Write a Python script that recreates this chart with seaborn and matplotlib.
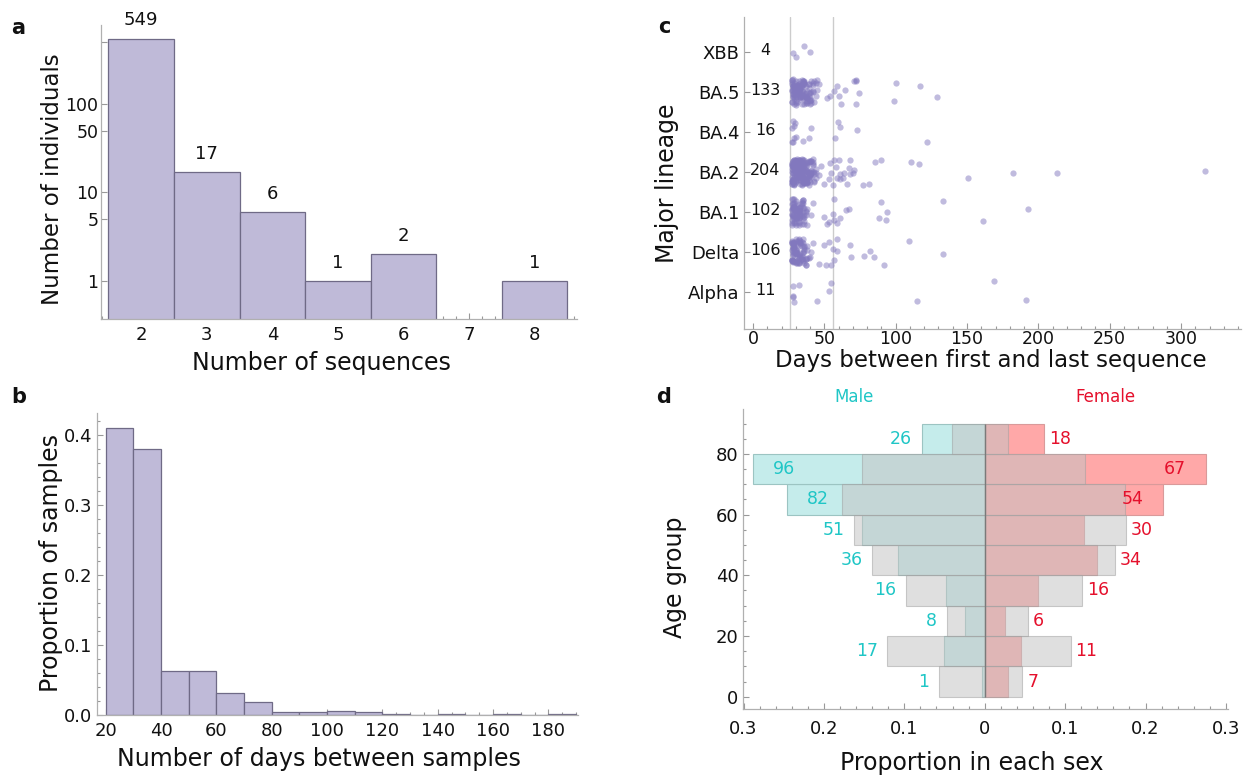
import numpy as np
import pandas as pd
import matplotlib
matplotlib.use("Agg")
import matplotlib.pyplot as plt
import seaborn as sns
from matplotlib.ticker import FixedLocator, MultipleLocator, FuncFormatter, NullLocator

# ---------------- data ----------------
# (a) number of sequences per individual
n_sequences = [2, 3, 4, 5, 6, 7, 8]
n_individuals = [549, 17, 6, 1, 2, 0, 1]

# (b) days between samples (10-day bins)
interval_bin_start = [20, 30, 40, 50, 60, 70, 80, 90, 100, 110, 120, 130, 140, 150, 160, 170, 180]
interval_proportion = [0.41, 0.38, 0.063, 0.063, 0.031, 0.018, 0.004, 0.004, 0.006,
                       0.004, 0.002, 0.0, 0.001, 0.0, 0.001, 0.0, 0.001]

# (c) days between first and last sequence by lineage (value, multiplicity)
lineages = ["XBB", "BA.5", "BA.4", "BA.2", "BA.1", "Delta", "Alpha"]
lineage_counts = [4, 133, 16, 204, 102, 106, 11]
xbb_days = [28, 30, 36, 40]
xbb_n = [1, 1, 1, 1]
ba5_days = [27, 28, 29, 30, 31, 32, 33, 34, 35, 36, 37, 38, 39, 40, 41, 42, 43, 44, 45, 46,
            51.6, 54, 57, 59, 60, 62, 64.5, 71, 72, 72.5, 74, 99, 100, 117, 129]
ba5_n = [8, 9, 9, 9, 8, 8, 8, 7, 7, 7, 6, 6, 5, 5, 4, 4, 2, 2, 2, 1,
         1, 1, 1, 1, 1, 1, 1, 1, 2, 1, 1, 1, 1, 1, 1]
ba4_days = [27, 28, 28.3, 28.9, 29, 29.4, 30, 35, 39.5, 40.4, 57.6, 59.3, 61.2, 72.9, 122.2]
ba4_n = [2, 1, 1, 1, 1, 1, 1, 1, 1, 1, 1, 1, 1, 1, 1]
ba2_days = [27, 28, 29, 30, 31, 32, 33, 34, 35, 36, 37, 38, 39, 40, 41, 42, 43, 44,
            46, 48, 50, 53, 54, 55, 56, 57, 58, 59, 60, 61, 63, 64, 66, 67, 68, 70, 71,
            77, 81, 85.5, 90, 111, 116.5, 151, 182.5, 213, 316.7]
ba2_n = [12, 14, 14, 13, 13, 12, 12, 11, 11, 10, 9, 9, 8, 7, 6, 5, 4, 3,
         1, 1, 1, 1, 1, 1, 1, 1, 1, 1, 1, 2, 1, 1, 1, 1, 2, 1, 1,
         1, 1, 1, 1, 1, 1, 1, 1, 1, 1]
ba1_days = [27, 28, 29, 30, 31, 32, 33, 34, 35, 36, 37, 38,
            41, 42, 50, 52, 53, 56, 56.5, 57, 59, 61, 65, 67, 88.5, 90, 93, 94, 133, 161, 193]
ba1_n = [9, 10, 10, 9, 8, 8, 7, 6, 6, 5, 3, 2,
         1, 1, 1, 1, 1, 1, 1, 1, 1, 1, 1, 1, 1, 1, 1, 1, 1, 1, 1]
delta_days = [27, 28, 29, 30, 31, 32, 33, 34, 35, 36, 37, 38, 39, 40,
              41, 42, 46, 50, 51, 53, 55, 56, 57, 59, 68, 68.5, 78, 82, 85, 92, 109, 133]
delta_n = [9, 10, 10, 9, 8, 8, 7, 6, 6, 5, 4, 3, 1, 1,
           1, 1, 1, 1, 1, 1, 1, 1, 1, 2, 1, 1, 1, 1, 1, 1, 1, 1]
alpha_days = [28, 28.5, 32, 45, 53, 55, 115, 169, 191]
alpha_n = [3, 1, 1, 1, 1, 1, 1, 1, 1]
ref_lines_days = [26, 56]

# (d) age pyramid
age_groups = [0, 10, 20, 30, 40, 50, 60, 70, 80]
male_counts = [1, 17, 8, 16, 36, 51, 82, 96, 26]
female_counts = [7, 11, 6, 16, 34, 30, 54, 67, 18]
male_ref = [0.057, 0.121, 0.047, 0.098, 0.140, 0.162, 0.178, 0.153, 0.041]
female_ref = [0.047, 0.107, 0.054, 0.121, 0.162, 0.176, 0.174, 0.125, 0.029]

# ---------------- style ----------------
sns.set_theme(style="white")
plt.rcParams["font.family"] = ["DejaVu Sans"]

BAR = "#bfbad8"
EDGE = "#6f6a86"
PT = "#8278be"
CYAN_FILL = "#c5eceb"
RED_FILL = "#ffa8a8"
GRAY_REF = "#c4c4c4"
MALE_TXT = "#1fc6c6"
FEMALE_TXT = "#e5102c"
TXT = "#111111"

W, H = 1248, 777
fig = plt.figure(figsize=(W / 100, H / 100), dpi=100)


def add_ax(box):
    l, t, r, b = box
    return fig.add_axes([l / W, 1 - b / H, (r - l) / W, (b - t) / H])


def style(ax):
    for s in ["top", "right"]:
        ax.spines[s].set_visible(False)
    for s in ["left", "bottom"]:
        ax.spines[s].set_color("#b0b0b0")
        ax.spines[s].set_linewidth(0.9)
    ax.tick_params(which="both", direction="in", color="#999999", width=0.8,
                   labelcolor=TXT, bottom=True, left=True, top=False, right=False)
    ax.tick_params(which="major", length=4.5, pad=3)
    ax.tick_params(which="minor", length=2.5)
    ax.grid(False)


def xlab(ax, box, text, cx, cy, size=17):
    l, t, r, b = box
    ax.set_xlabel(text, fontsize=size, color=TXT, va="center", ha="center")
    ax.xaxis.set_label_coords((cx - l) / (r - l), (b - cy) / (b - t))


def ylab(ax, box, text, cx, cy, size=17):
    l, t, r, b = box
    ax.set_ylabel(text, fontsize=size, color=TXT, va="center", ha="center")
    ax.yaxis.set_label_coords((cx - l) / (r - l), (b - cy) / (b - t))


# ---------------- (a) ----------------
box_a = (101, 24.5, 577, 319.3)
axa = add_ax(box_a)
sns.barplot(x=n_sequences, y=n_individuals, native_scale=True, width=1, color=BAR,
            edgecolor=EDGE, linewidth=0.9, saturation=1, errorbar=None, ax=axa)
axa.set_yscale("log")
axa.set_ylim(0.369, 791)
axa.set_xlim(1.386, 8.645)
style(axa)
axa.yaxis.set_major_locator(FixedLocator([1, 5, 10, 50, 100, 500]))
axa.yaxis.set_major_formatter(FuncFormatter(lambda v, p: "" if v >= 500 else f"{v:g}"))
axa.yaxis.set_minor_locator(NullLocator())
axa.xaxis.set_major_locator(FixedLocator(n_sequences))
axa.xaxis.set_major_formatter(FuncFormatter(lambda v, p: f"{v:g}"))
axa.xaxis.set_minor_locator(MultipleLocator(0.2))
axa.tick_params(labelsize=13)
axa.tick_params(axis="y", labelsize=12.5, pad=2)
axa.tick_params(axis="x", pad=5)
for xv, nv in zip(n_sequences, n_individuals):
    if nv > 0:
        axa.annotate(str(nv), (xv, nv), xytext=(0, 13), textcoords="offset points",
                     ha="center", va="center", fontsize=13, color=TXT)
xlab(axa, box_a, "Number of sequences", 321, 363)
ylab(axa, box_a, "Number of individuals", 53, 179, size=16.5)

# ---------------- (b) ----------------
box_b = (96.5, 413, 577.5, 715)
axb = add_ax(box_b)
bin_edges = interval_bin_start + [interval_bin_start[-1] + 10]
bin_centers = [s + 5 for s in interval_bin_start]
sns.histplot(x=bin_centers, weights=interval_proportion, bins=bin_edges, color=BAR,
             edgecolor=EDGE, linewidth=0.9, alpha=1, ax=axb)
axb.set_xlim(16.7, 190.5)
axb.set_ylim(0, 0.4314)
style(axb)
axb.yaxis.set_major_locator(MultipleLocator(0.1))
axb.yaxis.set_major_formatter(FuncFormatter(lambda v, p: f"{v:.1f}"))
axb.yaxis.set_minor_locator(MultipleLocator(0.02))
axb.xaxis.set_major_locator(FixedLocator(list(range(20, 181, 20))))
axb.xaxis.set_minor_locator(MultipleLocator(5))
axb.tick_params(labelsize=13)
axb.tick_params(axis="x", pad=5)
xlab(axb, box_b, "Number of days between samples", 318.5, 759)
ylab(axb, box_b, "Proportion of samples", 51, 563)

# ---------------- (c) ----------------
box_c = (744, 17, 1241, 329)
axc = add_ax(box_c)
lin_days = [xbb_days, ba5_days, ba4_days, ba2_days, ba1_days, delta_days, alpha_days]
lin_mult = [xbb_n, ba5_n, ba4_n, ba2_n, ba1_n, delta_n, alpha_n]
frames = []
for name, d, m in zip(lineages, lin_days, lin_mult):
    frames.append(pd.DataFrame({"days": np.repeat(d, m), "lineage": name}))
df_c = pd.concat(frames, ignore_index=True)
for xv in ref_lines_days:
    axc.axvline(xv, color="#cccccc", lw=1.0, zorder=0)
np.random.seed(3)
sns.stripplot(data=df_c, x="days", y="lineage", order=lineages, jitter=0.33, size=4.5,
              color=PT, alpha=0.5, linewidth=0, ax=axc, zorder=2)
axc.set_xlim(-6.3, 342)
axc.set_ylim(len(lineages) - 1 + 0.925, -0.875)
style(axc)
axc.xaxis.set_major_locator(MultipleLocator(50))
axc.xaxis.set_minor_locator(MultipleLocator(10))
axc.tick_params(axis="x", labelsize=12.5, pad=0.5)
axc.tick_params(axis="y", labelsize=13)
for i, cnt in enumerate(lineage_counts):
    axc.text(8.5, i - 0.04, str(cnt), ha="center", va="center", fontsize=11.5, color=TXT)
xlab(axc, box_c, "Days between first and last sequence", 991, 361, size=16.5)
ylab(axc, box_c, "Major lineage", 667, 183)

# ---------------- (d) ----------------
box_d = (742.7, 409, 1228, 709.3)
axd = add_ax(box_d)
male_prop = np.array(male_counts) / sum(male_counts)
female_prop = np.array(female_counts) / sum(female_counts)
age_mid = np.array(age_groups) + 5
sns.barplot(x=-male_prop, y=age_mid, orient="h", native_scale=True, width=1,
            color=CYAN_FILL, edgecolor="#9cc4c2", linewidth=0.8, saturation=1,
            errorbar=None, ax=axd)
sns.barplot(x=female_prop, y=age_mid, orient="h", native_scale=True, width=1,
            color=RED_FILL, edgecolor="#d99a9a", linewidth=0.8, saturation=1,
            errorbar=None, ax=axd)
sns.barplot(x=-np.array(male_ref), y=age_mid, orient="h", native_scale=True, width=1,
            color=GRAY_REF, alpha=0.53, edgecolor="#a0a0a0", linewidth=0.8,
            saturation=1, errorbar=None, ax=axd)
sns.barplot(x=np.array(female_ref), y=age_mid, orient="h", native_scale=True, width=1,
            color=GRAY_REF, alpha=0.53, edgecolor="#a0a0a0", linewidth=0.8,
            saturation=1, errorbar=None, ax=axd)
axd.vlines(0, min(age_groups), max(age_groups) + 10, color="#7a7a7a", lw=1.0, zorder=5)
axd.set_xlim(-0.301, 0.3026)
axd.set_ylim(-4.15, 94.8)
style(axd)
axd.xaxis.set_major_locator(MultipleLocator(0.1))
axd.xaxis.set_minor_locator(MultipleLocator(0.02))
axd.xaxis.set_major_formatter(FuncFormatter(lambda v, p: "0" if abs(v) < 1e-9 else f"{abs(v):.1f}"))
axd.yaxis.set_major_locator(MultipleLocator(20))
axd.yaxis.set_minor_locator(MultipleLocator(5))
axd.yaxis.set_major_formatter(FuncFormatter(lambda v, p: f"{v:g}"))
axd.tick_params(labelsize=13)
axd.tick_params(axis="x", pad=8)
for ym, mc, mp, mr, fc, fp, fr in zip(age_mid, male_counts, male_prop, male_ref,
                                      female_counts, female_prop, female_ref):
    mo = max(mp, mr)
    if mo > 0.2:
        axd.text(-mo + 0.025, ym, str(mc), ha="left", va="center", fontsize=12.5, color=MALE_TXT)
    else:
        axd.text(-mo - 0.012, ym, str(mc), ha="right", va="center", fontsize=12.5, color=MALE_TXT)
    fo = max(fp, fr)
    if fo > 0.2:
        axd.text(fo - 0.025, ym, str(fc), ha="right", va="center", fontsize=12.5, color=FEMALE_TXT)
    else:
        axd.text(fo + 0.006, ym, str(fc), ha="left", va="center", fontsize=12.5, color=FEMALE_TXT)
axd.text(-0.163, 98.9, "Male", ha="center", va="center", fontsize=12, color=MALE_TXT, clip_on=False)
axd.text(0.150, 98.9, "Female", ha="center", va="center", fontsize=12, color=FEMALE_TXT, clip_on=False)
xlab(axd, box_d, "Proportion in each sex", 972, 763)
ylab(axd, box_d, "Age group", 675, 577)

# ---------------- panel letters ----------------
for letter, px, py in [("a", 18, 28), ("b", 19, 397), ("c", 664, 27), ("d", 664, 397)]:
    fig.text(px / W, 1 - py / H, letter, fontsize=15, fontweight="bold", color=TXT,
             ha="center", va="center")

fig.savefig("out.png", dpi=100, facecolor="white")
